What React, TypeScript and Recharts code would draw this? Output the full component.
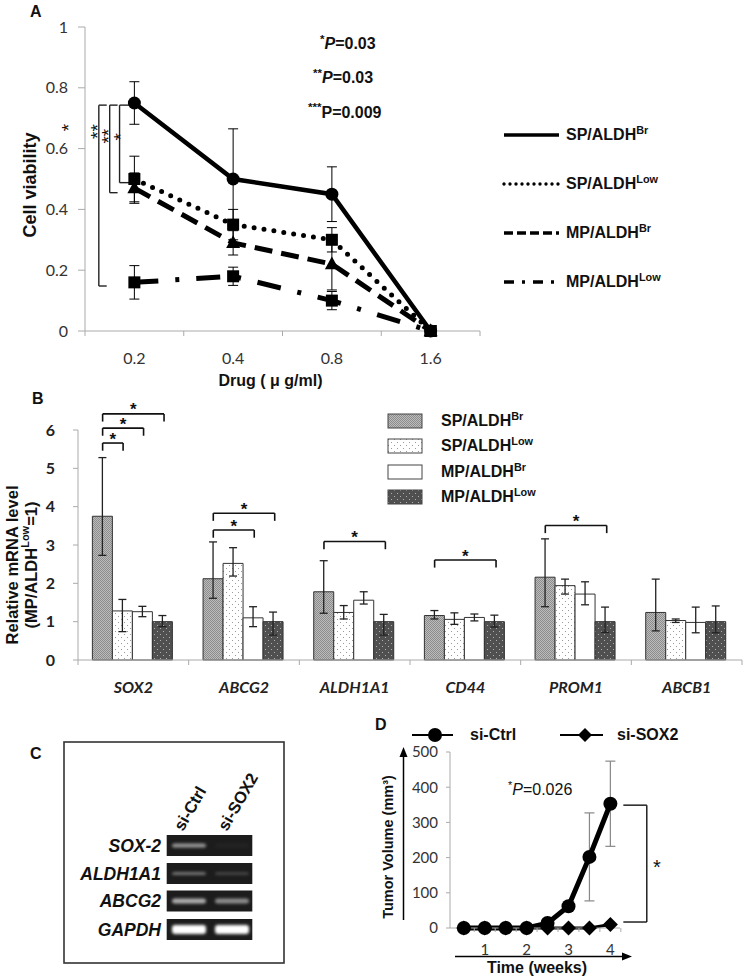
import React from 'react';
import {
  LineChart,
  Line,
  BarChart,
  Bar,
  XAxis,
  YAxis,
  ErrorBar,
  ReferenceLine,
  ReferenceDot,
} from 'recharts';

const ARIAL = '"Liberation Sans", Arial, sans-serif';
const NUM = 'Lato, "Liberation Sans", sans-serif';

// ---------- Panel A: cell viability ----------
const doses = ['0.2', '0.4', '0.8', '1.6'];
const spBrViability = [0.75, 0.5, 0.45, 0];
const spBrViabilityErr = [0.07, 0.165, 0.09, 0];
const spLowViability = [0.5, 0.35, 0.3, 0];
const spLowViabilityErr = [0.075, 0.05, 0.04, 0];
const mpBrViability = [0.47, 0.29, 0.22, 0];
const mpBrViabilityErr = [0.05, 0.04, 0.085, 0];
const mpLowViability = [0.16, 0.18, 0.1, 0];
const mpLowViabilityErr = [0.055, 0.03, 0.03, 0];
const viabilityTicks = [0, 0.2, 0.4, 0.6, 0.8, 1];

// brackets left of the 0.2 points (x in dose-band units)
const viabilityBrackets = [
  { x: 0.14, tip: 0.08, top: 0.743, bottom: 0.148 },
  { x: 0.25, tip: 0.08, top: 0.743, bottom: 0.455 },
  { x: 0.35, tip: 0.1, top: 0.743, bottom: 0.488 },
];
const viabilityStars = [
  { x: -0.21, y: 0.669, text: '*' },
  { x: 0.084, y: 0.656, text: '**' },
  { x: 0.196, y: 0.641, text: '**' },
  { x: 0.314, y: 0.639, text: '*' },
];
const pValuesA = [
  { stars: '*', p: 'P', rest: '=0.03', italic: true },
  { stars: '**', p: 'P', rest: '=0.03', italic: true },
  { stars: '***', p: 'P', rest: '=0.009', italic: false },
];

// ---------- Panel B: relative mRNA ----------
const genes = ['SOX2', 'ABCG2', 'ALDH1A1', 'CD44', 'PROM1', 'ABCB1'];
const spBrMrna = [3.75, 2.12, 1.78, 1.16, 2.16, 1.24];
const spBrMrnaErr = [[1.02, 1.53], [0.51, 0.96], [0.56, 0.81], [0.09, 0.13], [0.77, 1.0], [0.48, 0.87]];
const spLowMrna = [1.28, 2.52, 1.24, 1.06, 1.94, 1.03];
const spLowMrnaErr = [[0.54, 0.3], [0.33, 0.41], [0.17, 0.18], [0.13, 0.17], [0.22, 0.17], [0.05, 0.04]];
const mpBrMrna = [1.26, 1.1, 1.56, 1.11, 1.72, 0.98];
const mpBrMrnaErr = [[0.13, 0.14], [0.23, 0.29], [0.1, 0.22], [0.09, 0.09], [0.28, 0.32], [0.27, 0.4]];
const mpLowMrna = [1, 1, 1, 1, 1, 1];
const mpLowMrnaErr = [[0.13, 0.16], [0.35, 0.25], [0.35, 0.19], [0.14, 0.17], [0.28, 0.38], [0.29, 0.41]];
const mrnaTicks = [0, 1, 2, 3, 4, 5, 6];
const mrnaBrackets = [
  { gene: 0, from: 0, to: 1, y: 5.66 },
  { gene: 0, from: 0, to: 2, y: 6.05 },
  { gene: 0, from: 0, to: 3, y: 6.42 },
  { gene: 1, from: 0, to: 2, y: 3.39 },
  { gene: 1, from: 0, to: 3, y: 3.83 },
  { gene: 2, from: 0, to: 3, y: 3.09 },
  { gene: 3, from: 0, to: 3, y: 2.61 },
  { gene: 4, from: 0, to: 3, y: 3.51 },
];

// ---------- Panel C: RT-PCR gel ----------
const gelGenes = ['SOX-2', 'ALDH1A1', 'ABCG2', 'GAPDH'];
const gelLanes = ['si-Ctrl', 'si-SOX2'];
const gelCtrl = [0.55, 0.4, 0.65, 1];
const gelSox2 = [0.03, 0.18, 0.5, 1];
const gelBandHeight = [4, 3, 5, 9];

// ---------- Panel D: tumor volume ----------
const weeks = [0.5, 1, 1.5, 2, 2.5, 3, 3.5, 4];
const ctrlVolume = [0, 0, 0, 0, 14, 62, 202, 353];
const ctrlVolumeErr = [0, 0, 0, 0, 0, 0, 125, 121];
const sox2Volume = [0, 0, 0, 0, 0, 0, 0, 10];
const weekLabels = [1, 2, 3, 4];
const volumeTicks = [0, 100, 200, 300, 400, 500];

const groups = [
  { key: 'spBr', name: 'SP/ALDH', sup: 'Br' },
  { key: 'spLow', name: 'SP/ALDH', sup: 'Low' },
  { key: 'mpBr', name: 'MP/ALDH', sup: 'Br' },
  { key: 'mpLow', name: 'MP/ALDH', sup: 'Low' },
];

const lineStyle: Record<string, any> = {
  spBr: { width: 4.5, dash: undefined, cap: 'butt', marker: 'circle', size: 6.5, legendDash: undefined },
  spLow: { width: 5, dash: '0 10', cap: 'round', marker: 'square', size: 6, legendDash: '0 6' },
  mpBr: { width: 5, dash: '18 9', cap: 'butt', marker: 'triangle', size: 7, legendDash: '9 4' },
  mpLow: { width: 5, dash: '24 17 4 17', cap: 'butt', marker: 'square', size: 6, legendDash: '10 8 3 8' },
};
const barPattern: Record<string, string> = {
  spBr: 'pSpBr',
  spLow: 'pSpLow',
  mpBr: 'pMpBr',
  mpLow: 'pMpLow',
};

const viabilityData = doses.map((dose, i) => ({
  pos: i + 0.5,
  dose,
  spBr: spBrViability[i],
  spBrErr: spBrViabilityErr[i],
  spLow: spLowViability[i],
  spLowErr: spLowViabilityErr[i],
  mpBr: mpBrViability[i],
  mpBrErr: mpBrViabilityErr[i],
  mpLow: mpLowViability[i],
  mpLowErr: mpLowViabilityErr[i],
}));

const mrnaData = genes.map((gene, i) => ({
  gene,
  pos: i + 0.5,
  spBr: spBrMrna[i],
  spBrErr: spBrMrnaErr[i],
  spLow: spLowMrna[i],
  spLowErr: spLowMrnaErr[i],
  mpBr: mpBrMrna[i],
  mpBrErr: mpBrMrnaErr[i],
  mpLow: mpLowMrna[i],
  mpLowErr: mpLowMrnaErr[i],
}));

const volumeData = weeks.map((week, i) => ({
  week,
  ctrl: ctrlVolume[i],
  ctrlErr: ctrlVolumeErr[i],
  sox2: sox2Volume[i],
}));

const BAR_GAP = 0.13;
const barCenter = (gene: number, bar: number) =>
  gene + BAR_GAP + ((1 - 2 * BAR_GAP) / groups.length) * (bar + 0.5);

const marker = (shape: string, size: number) => (p: any) => {
  const { cx, cy, index } = p;
  const k = `m${index}`;
  if (cx == null || cy == null) return <g key={k} />;
  if (shape === 'circle') return <circle key={k} cx={cx} cy={cy} r={size} fill="#000" />;
  if (shape === 'square')
    return <rect key={k} x={cx - size} y={cy - size} width={size * 2} height={size * 2} fill="#000" />;
  if (shape === 'triangle')
    return (
      <polygon
        key={k}
        points={`${cx},${cy - size * 1.1} ${cx + size},${cy + size * 0.75} ${cx - size},${cy + size * 0.75}`}
        fill="#000"
      />
    );
  return (
    <polygon
      key={k}
      points={`${cx},${cy - size} ${cx + size},${cy} ${cx},${cy + size} ${cx - size},${cy}`}
      fill="#000"
    />
  );
};

const starLabel = (text: string, size: number, rotate = 0, bold = false) => (props: any) => {
  const vb = props.viewBox || { x: 0, y: 0, width: 0, height: 0 };
  const cx = vb.x + vb.width / 2;
  const cy = vb.y + vb.height / 2;
  return (
    <text
      x={cx}
      y={cy + size * 0.22}
      textAnchor="middle"
      dominantBaseline="central"
      fontFamily={ARIAL}
      fontWeight={bold ? 700 : 400}
      fontSize={size}
      fill="#111"
      transform={rotate ? `rotate(${rotate} ${cx} ${cy})` : undefined}
    >
      {text}
    </text>
  );
};

const yTitle = (lines: React.ReactNode[], xs: number[], dy: number, size: number) => (props: any) => {
  const vb = props.viewBox || { y: 0, height: 0 };
  const cy = vb.y + vb.height / 2 + dy;
  return (
    <g>
      {lines.map((ln, i) => (
        <text
          key={i}
          x={xs[i]}
          y={cy}
          transform={`rotate(-90 ${xs[i]} ${cy})`}
          textAnchor="middle"
          dominantBaseline="central"
          fontFamily={ARIAL}
          fontWeight={700}
          fontSize={size}
          fill="#111"
        >
          {ln}
        </text>
      ))}
    </g>
  );
};

const xTitle = (text: string, dx: number, dy: number, size: number) => (props: any) => {
  const vb = props.viewBox || { x: 0, y: 0, width: 0 };
  return (
    <text
      x={vb.x + vb.width / 2 + dx}
      y={vb.y + dy}
      textAnchor="middle"
      dominantBaseline="central"
      fontFamily={ARIAL}
      fontWeight={700}
      fontSize={size}
      fill="#111"
    >
      {text}
    </text>
  );
};

const DoseTick = (props: any) => {
  const { x, y, payload } = props;
  const v = payload.value;
  if (Number.isInteger(v)) return <line x1={x} x2={x} y1={y} y2={y + 5} stroke="#aaa" />;
  return (
    <text x={x} y={y + 26} textAnchor="middle" dominantBaseline="central" fontFamily={NUM} fontSize={16} fill="#333">
      {doses[Math.floor(v)]}
    </text>
  );
};

const GeneTick = (props: any) => {
  const { x, y, payload } = props;
  const v = payload.value;
  if (Number.isInteger(v)) return <line x1={x} x2={x} y1={y} y2={y + 5} stroke="#aaa" />;
  return (
    <text
      x={x}
      y={y + 26}
      textAnchor="middle"
      dominantBaseline="central"
      fontFamily={NUM}
      fontWeight={700}
      fontStyle="italic"
      fontSize={16}
      fill="#222"
    >
      {genes[Math.floor(v)]}
    </text>
  );
};

const WeekTick = (props: any) => {
  const { x, y, payload } = props;
  const v = payload.value;
  if (!weekLabels.includes(v)) return <line x1={x} x2={x} y1={y} y2={y + 4} stroke="#aaa" />;
  return (
    <text x={x} y={y + 21} textAnchor="middle" dominantBaseline="central" fontFamily={NUM} fontSize={15} fill="#333">
      {v}
    </text>
  );
};

const Sup = ({ children, size = '0.68em' }: any) => (
  <span style={{ fontSize: size, position: 'relative', top: '-0.55em' }}>{children}</span>
);

const Txt = ({ x, y, size = 16, bold = true, italic = false, children, style }: any) => (
  <div
    style={{
      position: 'absolute',
      left: x,
      top: y - size * 0.5,
      fontSize: size,
      lineHeight: 1,
      fontWeight: bold ? 700 : 400,
      fontStyle: italic ? 'italic' : 'normal',
      whiteSpace: 'nowrap',
      color: '#111',
      fontFamily: ARIAL,
      ...style,
    }}
  >
    {children}
  </div>
);

const Patterns = () => (
  <svg width={0} height={0} style={{ position: 'absolute' }}>
    <defs>
      <pattern id="pSpBr" width={2} height={2} patternUnits="userSpaceOnUse">
        <rect width={2} height={2} fill="#bcbcbc" />
        <rect width={1} height={1} fill="#8c8c8c" />
        <rect x={1} y={1} width={1} height={1} fill="#8c8c8c" />
      </pattern>
      <pattern id="pSpLow" width={6} height={6} patternUnits="userSpaceOnUse">
        <rect width={6} height={6} fill="#fff" />
        <rect x={1} y={1} width={1} height={1} fill="#9a9a9a" />
        <rect x={4} y={4} width={1} height={1} fill="#9a9a9a" />
      </pattern>
      <pattern id="pMpBr" width={6} height={6} patternUnits="userSpaceOnUse">
        <rect width={6} height={6} fill="#fff" />
      </pattern>
      <pattern id="pMpLow" width={6} height={6} patternUnits="userSpaceOnUse">
        <rect width={6} height={6} fill="#505050" />
        <rect x={1} y={1} width={1} height={1} fill="#b0b0b0" />
        <rect x={4} y={4} width={1} height={1} fill="#b0b0b0" />
      </pattern>
      <filter id="gelBlur" x="-20%" y="-100%" width="140%" height="300%">
        <feGaussianBlur stdDeviation="1.6" />
      </filter>
    </defs>
  </svg>
);

const ViabilityChart = () => (
  <LineChart width={490} height={390} data={viabilityData} margin={{ top: 27, right: 10, bottom: 0, left: 0 }}>
    <XAxis
      dataKey="pos"
      type="number"
      domain={[0, doses.length]}
      ticks={doses.flatMap((_, i) => [i, i + 0.5]).concat(doses.length)}
      interval={0}
      tickSize={0}
      tickMargin={0}
      tick={DoseTick}
      axisLine={{ stroke: '#aaa' }}
      allowDataOverflow
      height={59}
      label={xTitle('Drug ( \u03bc g/ml)', -12, 49, 16)}
    />
    <YAxis
      domain={[0, 1]}
      ticks={viabilityTicks}
      interval={0}
      width={85}
      tickSize={7}
      tickMargin={10}
      axisLine={{ stroke: '#aaa' }}
      tickLine={{ stroke: '#aaa' }}
      tick={{ fontFamily: NUM, fontSize: 16, fill: '#333' }}
      label={yTitle(['Cell viability'], [30], 6, 18)}
    />
    {viabilityBrackets.flatMap((b, i) => [
      <ReferenceLine key={`v${i}`} segment={[{ x: b.x, y: b.top }, { x: b.x, y: b.bottom }]} stroke="#222" strokeWidth={1.4} ifOverflow="visible" />,
      <ReferenceLine key={`t${i}`} segment={[{ x: b.x, y: b.top }, { x: b.x + b.tip, y: b.top }]} stroke="#222" strokeWidth={1.4} ifOverflow="visible" />,
      <ReferenceLine key={`b${i}`} segment={[{ x: b.x, y: b.bottom }, { x: b.x + b.tip, y: b.bottom }]} stroke="#222" strokeWidth={1.4} ifOverflow="visible" />,
    ])}
    {viabilityStars.map((s, i) => (
      <ReferenceDot key={`s${i}`} x={s.x} y={s.y} r={1} fill="none" stroke="none" ifOverflow="visible" label={starLabel(s.text, 19, -90)} />
    ))}
    {[...groups].reverse().map((g) => {
      const st = lineStyle[g.key];
      return (
        <Line
          key={g.key}
          dataKey={g.key}
          stroke="#000"
          strokeWidth={st.width}
          strokeDasharray={st.dash}
          strokeLinecap={st.cap}
          dot={marker(st.marker, st.size)}
          activeDot={false}
          isAnimationActive={false}
        >
          <ErrorBar dataKey={`${g.key}Err`} width={5} stroke="#000" strokeWidth={1} />
        </Line>
      );
    })}
  </LineChart>
);

const MrnaChart = () => (
  <BarChart
    width={746}
    height={305}
    data={mrnaData}
    margin={{ top: 40, right: 4, bottom: 0, left: 0 }}
    barCategoryGap={`${BAR_GAP * 100}%`}
    barGap={0}
  >
    <XAxis xAxisId="cat" dataKey="gene" hide height={0} />
    <XAxis
      xAxisId="n"
      dataKey="pos"
      type="number"
      domain={[0, genes.length]}
      ticks={genes.flatMap((_, i) => [i, i + 0.5]).concat(genes.length)}
      interval={0}
      tickSize={0}
      tickMargin={0}
      tick={GeneTick}
      axisLine={{ stroke: '#aaa' }}
      allowDataOverflow
      height={35}
    />
    <YAxis
      domain={[0, 6]}
      ticks={mrnaTicks}
      interval={0}
      width={78}
      tickSize={5}
      tickMargin={18}
      axisLine={{ stroke: '#aaa' }}
      tickLine={{ stroke: '#aaa' }}
      tick={{ fontFamily: NUM, fontSize: 16, fontWeight: 700, fill: '#222' }}
      label={yTitle(
        [
          'Relative mRNA level',
          <>
            (MP/ALDH<tspan dy={-6} fontSize={11}>Low</tspan>
            <tspan dy={6}>=1)</tspan>
          </>,
        ],
        [12, 31],
        20,
        16.5,
      )}
    />
    {groups.map((g) => (
      <Bar
        key={g.key}
        xAxisId="cat"
        dataKey={g.key}
        fill={`url(#${barPattern[g.key]})`}
        stroke="#333"
        strokeWidth={1}
        isAnimationActive={false}
      >
        <ErrorBar dataKey={`${g.key}Err`} width={4} stroke="#222" strokeWidth={1.3} />
      </Bar>
    ))}
    {mrnaBrackets.flatMap((b, i) => {
      const x1 = barCenter(b.gene, b.from);
      const x2 = barCenter(b.gene, b.to);
      const tip = b.y - 0.2;
      const common = { xAxisId: 'n', stroke: '#111', strokeWidth: 1.6, ifOverflow: 'visible' as const };
      return [
        <ReferenceLine key={`h${i}`} {...common} segment={[{ x: x1, y: b.y }, { x: x2, y: b.y }]} />,
        <ReferenceLine key={`l${i}`} {...common} segment={[{ x: x1, y: b.y }, { x: x1, y: tip }]} />,
        <ReferenceLine key={`r${i}`} {...common} segment={[{ x: x2, y: b.y }, { x: x2, y: tip }]} />,
        <ReferenceDot
          key={`s${i}`}
          xAxisId="n"
          x={(x1 + x2) / 2}
          y={b.y + 0.2}
          r={1}
          fill="none"
          stroke="none"
          ifOverflow="visible"
          label={starLabel('*', 17, 0, true)}
        />,
      ];
    })}
  </BarChart>
);

const VolumeChart = () => (
  <LineChart width={376} height={259} data={volumeData} margin={{ top: 32, right: 126, bottom: 0, left: 0 }}>
    <XAxis
      dataKey="week"
      type="number"
      domain={[0.17, 4.23]}
      ticks={weeks.map((w) => w + 0.25).concat(weekLabels).sort((a, b) => a - b)}
      interval={0}
      tickSize={0}
      tickMargin={0}
      tick={WeekTick}
      axisLine={{ stroke: '#aaa' }}
      allowDataOverflow
      height={51}
      label={xTitle('Time (weeks)', 2, 39, 16)}
    />
    <YAxis
      domain={[0, 500]}
      ticks={volumeTicks}
      interval={0}
      width={80}
      tickSize={4}
      tickMargin={8}
      axisLine={{ stroke: '#aaa' }}
      tickLine={{ stroke: '#aaa' }}
      tick={{ fontFamily: NUM, fontSize: 15, fill: '#333' }}
      label={yTitle(['Tumor Volume (mm\u00b3)'], [18], 7, 14.5)}
    />
    <ReferenceLine segment={[{ x: 4.31, y: 349 }, { x: 4.87, y: 349 }]} stroke="#111" strokeWidth={1.4} ifOverflow="visible" />
    <ReferenceLine segment={[{ x: 4.87, y: 349 }, { x: 4.87, y: 17 }]} stroke="#111" strokeWidth={1.4} ifOverflow="visible" />
    <ReferenceLine segment={[{ x: 4.31, y: 17 }, { x: 4.87, y: 17 }]} stroke="#111" strokeWidth={1.4} ifOverflow="visible" />
    <ReferenceDot x={5.11} y={187} r={1} fill="none" stroke="none" ifOverflow="visible" label={starLabel('*', 20)} />
    <Line dataKey="ctrl" stroke="#000" strokeWidth={5} dot={marker('circle', 7)} activeDot={false} isAnimationActive={false}>
      <ErrorBar dataKey="ctrlErr" width={5} stroke="#888" strokeWidth={1.2} />
    </Line>
    <Line dataKey="sox2" stroke="#000" strokeWidth={3} dot={marker('diamond', 7.5)} activeDot={false} isAnimationActive={false} />
  </LineChart>
);

const Gel = () => {
  const rowTop = [95, 123, 150.5, 179];
  return (
    <svg width={230} height={235} style={{ position: 'absolute', left: 62, top: 740 }}>
      <rect x={2} y={2} width={220} height={221} fill="#fff" stroke="#333" strokeWidth={1.6} />
      {gelLanes.map((lane, j) => {
        const x = 121 + j * 44;
        const y = 92;
        return (
          <text
            key={lane}
            x={x}
            y={y}
            transform={`rotate(-60 ${x} ${y})`}
            fontFamily={ARIAL}
            fontWeight={700}
            fontSize={16.5}
            fill="#111"
          >
            {lane}
          </text>
        );
      })}
      {gelGenes.map((g, i) => {
        const top = rowTop[i];
        const mid = top + 10.5;
        return (
          <g key={g}>
            <text
              x={99}
              y={mid}
              textAnchor="end"
              dominantBaseline="central"
              fontFamily={ARIAL}
              fontWeight={700}
              fontStyle="italic"
              fontSize={17.5}
              fill="#111"
            >
              {g}
            </text>
            <rect x={104.7} y={top} width={85.6} height={21} fill="#1c1c1c" />
            {[gelCtrl[i], gelSox2[i]].map((v, j) => (
              <rect
                key={j}
                x={110 + j * 43}
                y={mid - gelBandHeight[i] / 2}
                width={34}
                height={gelBandHeight[i]}
                rx={3}
                fill="#fff"
                opacity={v}
                filter="url(#gelBlur)"
              />
            ))}
          </g>
        );
      })}
    </svg>
  );
};

const App = () => (
  <div
    style={{
      position: 'absolute',
      left: 0,
      top: 0,
      width: 746,
      height: 979,
      background: '#fff',
      fontFamily: ARIAL,
      overflow: 'hidden',
    }}
  >
    <Patterns />

    {/* Panel A */}
    <div style={{ position: 'absolute', left: 0, top: 0 }}>
      <ViabilityChart />
    </div>
    <Txt x={30} y={12} size={16}>A</Txt>
    {pValuesA.map((p, i) => (
      <Txt key={i} x={[320, 313, 308][i]} y={44 + i * 34.3} size={16}>
        <Sup size="0.72em">{p.stars}</Sup>
        <span style={{ fontStyle: p.italic ? 'italic' : 'normal' }}>{p.p}</span>
        {p.rest}
      </Txt>
    ))}
    {groups.map((g, i) => {
      const st = lineStyle[g.key];
      const cy = 135 + i * 49;
      return (
        <React.Fragment key={g.key}>
          <svg width={60} height={10} style={{ position: 'absolute', left: 502, top: cy - 5 }}>
            <line
              x1={2}
              x2={57}
              y1={5}
              y2={5}
              stroke="#000"
              strokeWidth={3.4}
              strokeDasharray={st.legendDash}
              strokeLinecap={st.cap}
            />
          </svg>
          <Txt x={566} y={cy} size={16}>
            {g.name}
            <Sup>{g.sup}</Sup>
          </Txt>
        </React.Fragment>
      );
    })}

    {/* Panel B */}
    <div style={{ position: 'absolute', left: 0, top: 390 }}>
      <MrnaChart />
    </div>
    <Txt x={32} y={399} size={16}>B</Txt>
    {groups.map((g, i) => {
      const cy = 421 + i * 25.3;
      return (
        <React.Fragment key={g.key}>
          <svg width={36} height={16} style={{ position: 'absolute', left: 387, top: cy - 8 }}>
            <rect x={1} y={1} width={34} height={14} fill={`url(#${barPattern[g.key]})`} stroke="#444" strokeWidth={1} />
          </svg>
          <Txt x={441} y={cy} size={16}>
            {g.name}
            <Sup>{g.sup}</Sup>
          </Txt>
        </React.Fragment>
      );
    })}

    {/* Panel C */}
    <Txt x={30} y={754} size={16}>C</Txt>
    <Gel />

    {/* Panel D */}
    <div style={{ position: 'absolute', left: 370, top: 720 }}>
      <VolumeChart />
    </div>
    <Txt x={375} y={725} size={16}>D</Txt>
    <svg width={50} height={20} style={{ position: 'absolute', left: 408, top: 725 }}>
      <line x1={4} x2={45} y1={10} y2={10} stroke="#000" strokeWidth={2} />
      <circle cx={27} cy={10} r={7} fill="#000" />
    </svg>
    <Txt x={470} y={735} size={16}>si-Ctrl</Txt>
    <svg width={50} height={20} style={{ position: 'absolute', left: 556, top: 725 }}>
      <line x1={4} x2={47} y1={10} y2={10} stroke="#000" strokeWidth={2} />
      <polygon points="29,3 36,10 29,17 22,10" fill="#000" />
    </svg>
    <Txt x={617} y={735} size={16}>si-SOX2</Txt>
    <Txt x={508} y={790} size={16} bold={false}>
      <Sup>*</Sup>
      <span style={{ fontStyle: 'italic' }}>P</span>=0.026
    </Txt>
    <svg width={746} height={979} style={{ position: 'absolute', left: 0, top: 0, pointerEvents: 'none' }}>
      <line x1={403.5} x2={403.5} y1={920} y2={755} stroke="#000" strokeWidth={1.5} />
      <polygon points="403.5,747 399.5,757 407.5,757" fill="#000" />
      <line x1={455} x2={624} y1={956.5} y2={956.5} stroke="#000" strokeWidth={1.5} />
      <polygon points="632,956.5 622,952.5 622,960.5" fill="#000" />
    </svg>
  </div>
);

export default App;
